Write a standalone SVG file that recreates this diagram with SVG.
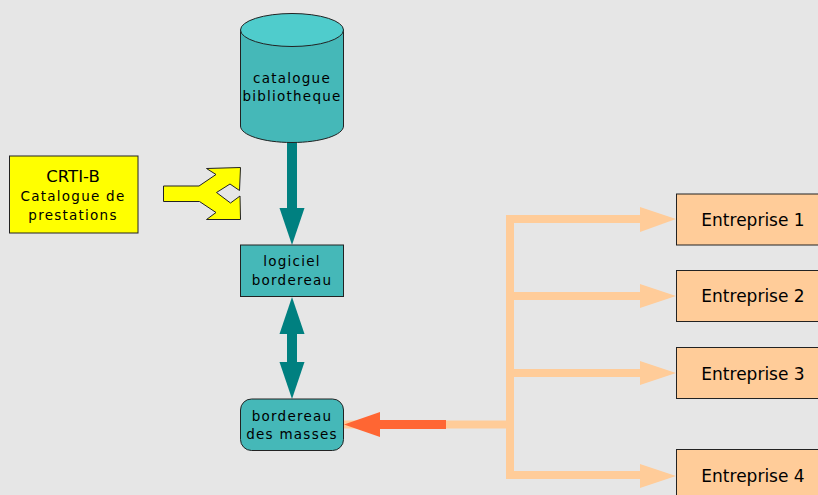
<svg xmlns="http://www.w3.org/2000/svg" width="818" height="495" viewBox="0 0 818 495">
<style>
text{font-family:"DejaVu Sans",sans-serif;fill:#000;text-anchor:middle}
.s{font-size:13.5px;letter-spacing:1.25px}
.e{font-size:17px}
.box{stroke:#222;stroke-width:1}
.teal{fill:#45b8b8}
.org{fill:#ffcc99}
.tc{stroke:#008080;stroke-width:10;fill:none}
.pc{stroke:#ffcc99;stroke-width:8;fill:none}
</style>
<rect width="818" height="495" fill="#e6e6e6"/>
<g id="connectors">
<path class="tc" d="M292 142V210"/>
<polygon fill="#008080" points="279.500,208 304.500,208 292,245"/>
<path class="tc" d="M292 332V364"/>
<polygon fill="#008080" points="279.500,334 304.500,334 292,297"/>
<polygon fill="#008080" points="279.500,362 304.500,362 292,399"/>
<path class="pc" d="M446 424.500H510M510 216V475M506 219H642M510 296H642M510 373H642M506 475H642"/>
<polygon class="org" points="640,207 640,232 676,219"/>
<polygon class="org" points="640,284 640,308 676,296"/>
<polygon class="org" points="640,361 640,385 676,373"/>
<polygon class="org" points="640,464 640,488 676,476"/>
<path d="M344 424.500H380" stroke="#ffcc99" stroke-width="8"/>
<path d="M378 424.500H446" stroke="#ff6633" stroke-width="9"/>
<polygon fill="#ff6633" points="380,412 380,437 344,424.500"/>
</g>
<g id="crti">
<rect class="box" x="9.500" y="156" width="128.500" height="77" fill="#ffff00"/>
<text x="73" y="182" style="font-size:16.500px">CRTI-B</text>
<text class="s" x="73" y="201">Catalogue de</text>
<text class="s" x="73" y="220">prestations</text>
</g>
<g id="fork">
<polygon fill="#ffff00" stroke="#222" stroke-width="1" points="163.500,186 199,186 216,174.500 206.500,168.500 240.500,167.500 239.500,190.500 230,184 216.500,192.500 230.500,203 240,196 240.500,219.500 206.500,219.500 216,212.500 199.500,201.500 163.500,201.500"/>
</g>
<g id="catalogue">
<path class="box teal" d="M240.500 30V126C240.500 135 263 142.500 292 142.500S343.500 135 343.500 126V30Z"/>
<ellipse class="box" cx="292" cy="30" rx="51.500" ry="16.500" fill="#4fcccc"/>
<text class="s" x="292" y="83">catalogue</text>
<text class="s" x="292" y="101">bibliotheque</text>
</g>
<g id="logiciel">
<rect class="box teal" x="240.500" y="245" width="103" height="51.500"/>
<text class="s" x="292" y="266">logiciel</text>
<text class="s" x="292" y="285">bordereau</text>
</g>
<g id="masses">
<rect class="box teal" x="240.500" y="399" width="103" height="51.500" rx="11"/>
<text class="s" x="292" y="421">bordereau</text>
<text class="s" x="292" y="439">des masses</text>
</g>
<g id="e1"><rect class="box org" x="676.500" y="194" width="142" height="51"/><text class="e" x="753" y="225.500">Entreprise 1</text></g>
<g id="e2"><rect class="box org" x="676.500" y="270.500" width="142" height="51"/><text class="e" x="753" y="302">Entreprise 2</text></g>
<g id="e3"><rect class="box org" x="676.500" y="347.500" width="142" height="51"/><text class="e" x="753" y="379.500">Entreprise 3</text></g>
<g id="e4"><rect class="box org" x="676.500" y="449.500" width="142" height="51"/><text class="e" x="753" y="482">Entreprise 4</text></g>
</svg>
